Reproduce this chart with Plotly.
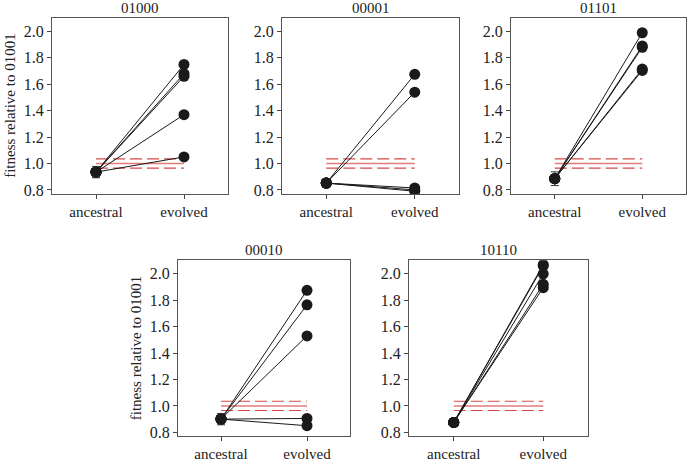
import plotly.graph_objects as go

panels = ["01000", "00001", "01101", "00010", "10110"]
anc_mean = [0.935, 0.852, 0.885, 0.900, 0.875]
anc_err = [0.043, 0.033, 0.052, 0.043, 0.022]
evolved = [
    [1.75, 1.68, 1.66, 1.37, 1.05],
    [1.675, 1.54, 0.815, 0.80, 0.79],
    [1.99, 1.89, 1.88, 1.715, 1.705],
    [1.875, 1.765, 1.53, 0.905, 0.85],
    [2.07, 2.06, 2.0, 1.92, 1.895],
]
x_labels = ["ancestral", "evolved"]
ref_mean = 1.0
ref_lo = 0.965
ref_hi = 1.035
y_ticks = [0.8, 1.0, 1.2, 1.4, 1.6, 1.8, 2.0]
y_title = "fitness relative to 01001"

W, H = 688, 467
# panel boxes in pixels: (left, right, top, bottom)
boxes = [
    (52, 228, 18, 196),
    (282, 459, 18, 196),
    (511, 686, 18, 196),
    (178, 350, 263, 441),
    (409, 588, 263, 441),
]
FONT = "Liberation Serif"

fig = go.Figure()
layout = {}
annotations = []
for i, name in enumerate(panels):
    n = i + 1
    xa = "x" if n == 1 else f"x{n}"
    ya = "y" if n == 1 else f"y{n}"
    l, r, t, b = boxes[i]
    layout["xaxis" if n == 1 else f"xaxis{n}"] = dict(
        domain=[l / W, r / W], anchor=ya, range=[0.5, 2.5],
        tickvals=[1, 2], ticktext=x_labels, ticks="outside", ticklen=4,
        tickcolor="#444", showgrid=False, zeroline=False, showline=True,
        mirror=True, linecolor="#555", linewidth=1,
        tickfont=dict(family=FONT, size=15, color="#222"), fixedrange=True,
    )
    layout["yaxis" if n == 1 else f"yaxis{n}"] = dict(
        domain=[1 - b / H, 1 - t / H], anchor=xa, range=[0.77, 2.103],
        tickvals=y_ticks, ticktext=[f"{v:.1f}" for v in y_ticks],
        ticks="outside", ticklen=4, tickcolor="#444", showgrid=False,
        zeroline=False, showline=True, mirror=True, linecolor="#555",
        linewidth=1, tickfont=dict(family=FONT, size=16, color="#222"),
        fixedrange=True,
    )
    # reference lines
    for val, dash, col, w in [(ref_mean, "solid", "rgba(222,100,100,0.85)", 1.5),
                              (ref_lo, "dash", "#d84a4a", 1.1),
                              (ref_hi, "dash", "#d84a4a", 1.1)]:
        fig.add_trace(go.Scatter(
            x=[1, 2], y=[val, val], mode="lines", xaxis=xa, yaxis=ya,
            line=dict(color=col, width=w, dash="12px,5px" if dash == "dash" else "solid"),
            showlegend=False, hoverinfo="skip"))
    # replicate lines
    for v in evolved[i]:
        fig.add_trace(go.Scatter(
            x=[1, 2], y=[anc_mean[i], v], mode="lines+markers", xaxis=xa, yaxis=ya,
            line=dict(color="#1a1a1a", width=1),
            marker=dict(size=11, color="#1a1a1a"),
            showlegend=False))
    # ancestral error bar
    fig.add_trace(go.Scatter(
        x=[1], y=[anc_mean[i]], mode="markers", xaxis=xa, yaxis=ya,
        marker=dict(size=11, color="#1a1a1a"),
        error_y=dict(type="constant", value=anc_err[i], color="#333",
                     thickness=1, width=4),
        showlegend=False))
    annotations.append(dict(
        text=name, x=(l + r) / 2 / W, y=1 - (t - 10) / H, xref="paper", yref="paper",
        showarrow=False, xanchor="center", yanchor="middle",
        font=dict(family=FONT, size=15, color="#222")))

for xpix, (t, b) in [(10, (18, 196)), (136, (263, 441))]:
    annotations.append(dict(
        text=y_title, x=xpix / W, y=1 - (t + b) / 2 / H, xref="paper", yref="paper",
        showarrow=False, textangle=-90, xanchor="center", yanchor="middle",
        font=dict(family=FONT, size=15, color="#222")))

fig.update_layout(
    width=W, height=H, margin=dict(l=0, r=0, t=0, b=0),
    paper_bgcolor="white", plot_bgcolor="white",
    annotations=annotations, **layout)

fig.write_html("out.html", config={"displayModeBar": False},
               post_script="document.body.style.margin='0';document.body.style.overflow='hidden';")
